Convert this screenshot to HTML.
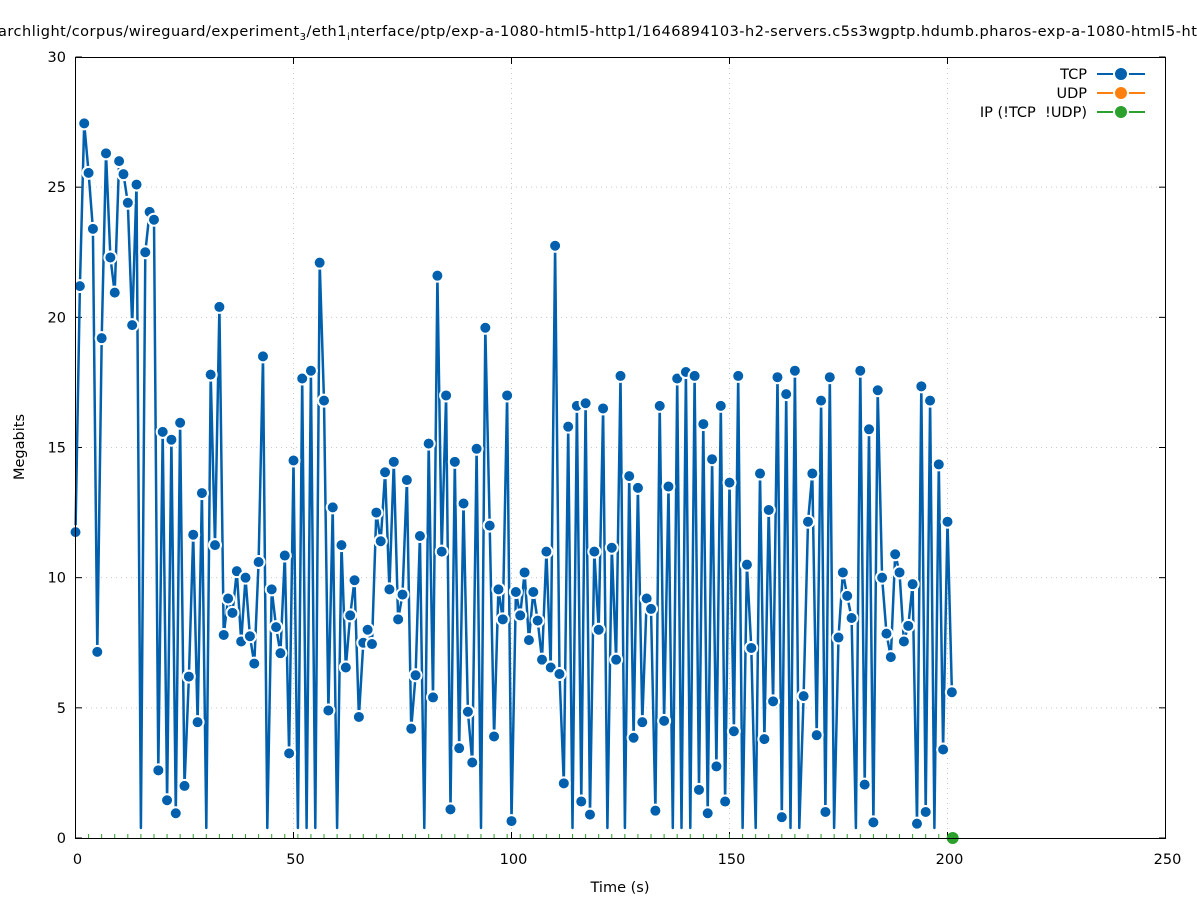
<!DOCTYPE html>
<html><head><meta charset="utf-8"><style>
html,body{margin:0;padding:0;background:#fff;}
svg{display:block;font-family:"DejaVu Sans","Liberation Sans",sans-serif;}
</style></head><body>
<svg id="s" width="1197" height="900" viewBox="0 0 1197 900" xmlns="http://www.w3.org/2000/svg">
<rect width="1197" height="900" fill="#fff"/>
<text x="-2" y="36" font-size="14.5" letter-spacing="0.5" fill="#000">archlight/corpus/wireguard/experiment<tspan font-size="10" dy="4">3</tspan><tspan dy="-4">/eth1</tspan><tspan font-size="10" dy="4">i</tspan><tspan dy="-4">nterface/ptp/exp-a-1080-html5-http1/1646894103-h2-servers.c5s3wgptp.hdumb.pharos-exp-a-1080-html5-http1</tspan></text>
<g id="grid" stroke="#c8c8c8" stroke-width="1" stroke-dasharray="1,4"></g>
<g id="ticks" stroke="#000" stroke-width="1"></g>
<g id="labels" font-size="14.5" fill="#000"></g>
<g id="green"></g>
<g id="data"></g>
<rect x="75.5" y="57.5" width="1090" height="781" fill="none" stroke="#000" stroke-width="1"/>
<text x="620" y="892" font-size="14.5" text-anchor="middle">Time (s)</text>
<text transform="translate(24,447) rotate(-90)" font-size="14.5" text-anchor="middle">Megabits</text>
<g font-size="14.5" text-anchor="end">
<rect x="960" y="62" width="200" height="62" fill="#fff"/>
<text x="1087" y="79">TCP</text>
<text x="1087" y="98">UDP</text>
<text x="1087" y="117" style="white-space:pre" xml:space="preserve">IP (!TCP  !UDP)</text>
<line x1="1097" y1="74" x2="1145" y2="74" stroke="#0060ad" stroke-width="2"/>
<circle cx="1121" cy="74" r="7" fill="#0060ad" stroke="#fff" stroke-width="2"/>
<line x1="1097" y1="93" x2="1145" y2="93" stroke="#ff7f0e" stroke-width="2"/>
<circle cx="1121" cy="93" r="7" fill="#ff7f0e" stroke="#fff" stroke-width="2"/>
<line x1="1097" y1="112" x2="1145" y2="112" stroke="#2ca02c" stroke-width="2"/>
<circle cx="1121" cy="112" r="7" fill="#2ca02c" stroke="#fff" stroke-width="2"/>
</g>
</svg>
<script>
var d=[11.75,21.2,27.45,25.55,23.4,7.15,19.2,26.3,22.3,20.95,26,25.5,24.4,19.7,25.1,0,22.5,24.05,23.75,2.6,15.6,1.45,15.3,0.95,15.95,2.0,6.2,11.65,4.45,13.25,0,17.8,11.25,20.4,7.8,9.2,8.65,10.25,7.55,10.0,7.75,6.7,10.6,18.5,0,9.55,8.1,7.1,10.85,3.25,14.5,0,17.65,0,17.95,0,22.1,16.8,4.9,12.7,0,11.25,6.55,8.55,9.9,4.65,7.5,8.0,7.45,12.5,11.4,14.05,9.55,14.45,8.4,9.35,13.75,4.2,6.25,11.6,0,15.15,5.4,21.6,11.0,17.0,1.1,14.45,3.45,12.85,4.85,2.9,14.95,0,19.6,12.0,3.9,9.55,8.4,17.0,0.65,9.45,8.55,10.2,7.6,9.45,8.35,6.85,11.0,6.55,22.75,6.3,2.1,15.8,0,16.6,1.4,16.7,0.9,11.0,8.0,16.5,0,11.15,6.85,17.75,0,13.9,3.85,13.45,4.45,9.2,8.8,1.05,16.6,4.5,13.5,0,17.65,0,17.9,0,17.75,1.85,15.9,0.95,14.55,2.75,16.6,1.4,13.65,4.1,17.75,0,10.5,7.3,0,14.0,3.8,12.6,5.25,17.7,0.8,17.05,0,17.95,0,5.45,12.15,14.0,3.95,16.8,1.0,17.7,0,7.7,10.2,9.3,8.45,0,17.95,2.05,15.7,0.6,17.2,10.0,7.85,6.95,10.9,10.2,7.55,8.15,9.75,0.55,17.35,1.0,16.8,0,14.35,3.4,12.15,5.6];
var NS="http://www.w3.org/2000/svg";
function X(t){return 75.5+t*4.36;}
function Y(v){return 838-v*26.033;}
function el(p,n,a,txt){var e=document.createElementNS(NS,n);for(var k in a)e.setAttribute(k,a[k]);if(txt!=null)e.textContent=txt;document.getElementById(p).appendChild(e);return e;}
for(var v=0;v<=30;v+=5){var y=Y(v);
 if(v>0&&v<30)el("grid","line",{x1:76,y1:y,x2:1165,y2:y});
 el("ticks","line",{x1:75.5,y1:y,x2:82,y2:y});el("ticks","line",{x1:1159,y1:y,x2:1165.5,y2:y});
 el("labels","text",{x:66,y:y+5,"text-anchor":"end"},String(v));}
for(var t=0;t<=250;t+=50){var x=X(t);
 if(t>0&&t<250)el("grid","line",{x1:x,y1:58,x2:x,y2:838});
 el("ticks","line",{x1:x,y1:838,x2:x,y2:832});el("ticks","line",{x1:x,y1:57.5,x2:x,y2:64});
 el("labels","text",{x:x+2,y:864,"text-anchor":"middle"},String(t));}
for(var t=0;t<=201;t+=3){var x=X(t);el("green","line",{x1:x,y1:838,x2:x,y2:834,stroke:"#2ca02c","stroke-width":1});}
var pts=[];for(var i=0;i<d.length;i++){pts.push(X(i).toFixed(1)+","+(d[i]==0?828:Y(d[i])).toFixed(1));}
el("data","polyline",{points:pts.join(" "),fill:"none",stroke:"#0060ad","stroke-width":2.5,"stroke-linejoin":"round"});
for(var i=0;i<d.length;i++){if(d[i]==0)continue;el("data","circle",{cx:X(i),cy:Y(d[i]),r:6,fill:"#0060ad",stroke:"#fff","stroke-width":2});}
el("data","circle",{cx:952.7,cy:838,r:6,fill:"#2ca02c"});
</script>
</body></html>
